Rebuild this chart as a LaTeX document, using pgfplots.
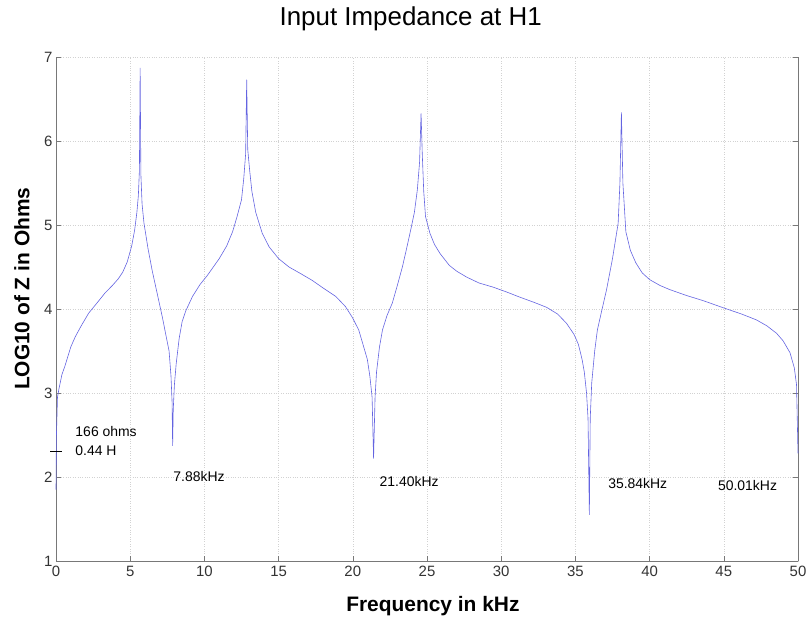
\documentclass[border=0pt]{standalone}
\usepackage{pgfplots}
\pgfplotsset{compat=1.18}
\usepackage{fontspec}
\setmainfont{Liberation Sans}
\definecolor{curve}{RGB}{100,100,225}
\definecolor{axgray}{RGB}{120,120,120}
\begin{document}
\begin{tikzpicture}
\begin{axis}[
  at={(0,0)}, anchor=south west,
  scale only axis, width=742bp, height=504bp,
  xmin=0, xmax=50, ymin=1, ymax=7,
  xtick={0,5,...,50}, ytick={1,2,...,7},
  axis x line=bottom, axis y line=box,
  x axis line style={-, draw=axgray},
  y axis line style={-, draw=axgray},
  tick align=inside, major tick length=5bp,
  tick style={axgray, line width=0.5pt},
  grid=major,
  grid style={dotted, gray!35, line width=0.5pt},
  /pgf/number format/assume math mode=true,
  tick label style={font=\fontsize{15}{18}\selectfont, text=black!80},
  xticklabel style={yshift=-2bp},
  title={Input Impedance at H1},
  title style={font=\fontsize{26}{30}\selectfont, at={(rel axis cs:0.478,1)}, anchor=center, yshift=32bp},
  xlabel={Frequency in kHz},
  xlabel style={font=\fontsize{21}{24}\selectfont\bfseries, at={(rel axis cs:0.508,0)}, anchor=center, yshift=-45bp},
  ylabel={LOG10 of Z in Ohms},
  ylabel style={font=\fontsize{21}{24}\selectfont\bfseries, at={(rel axis cs:0,0.54)}, anchor=center, yshift=34bp},
  clip=false,
]
\addplot[curve, line width=0.6pt] coordinates {
(0.0,1.85) (0.03,2.5) (0.1,2.95) (0.2,3.05) (0.4,3.22) (0.6,3.32) (1.0,3.55) (1.3,3.67) (1.7,3.8) (2.2,3.95) (2.8,4.08) (3.3,4.19) (3.8,4.28) (4.2,4.36) (4.5,4.44) (4.8,4.56) (5.1,4.75) (5.3,4.94) (5.45,5.15) (5.55,5.35) (5.62,5.65) (5.67,6.87) (5.72,5.6) (5.8,5.25) (5.93,5.02) (6.2,4.72) (6.49,4.45) (6.8,4.2) (7.17,3.9) (7.45,3.65) (7.62,3.5) (7.75,3.2) (7.82,2.9) (7.86,2.37) (7.9,2.8) (7.98,3.1) (8.1,3.35) (8.3,3.65) (8.5,3.85) (8.75,3.98) (9.2,4.15) (9.7,4.29) (10.2,4.4) (10.6,4.5) (11.0,4.6) (11.5,4.75) (11.9,4.92) (12.2,5.1) (12.5,5.3) (12.65,5.55) (12.78,5.85) (12.85,6.73) (12.92,5.9) (13.05,5.65) (13.2,5.4) (13.46,5.15) (13.9,4.9) (14.36,4.74) (15.0,4.6) (15.7,4.5) (16.5,4.42) (17.27,4.34) (18.0,4.25) (18.85,4.15) (19.5,4.03) (19.97,3.9) (20.4,3.75) (20.65,3.6) (20.98,3.4) (21.15,3.2) (21.3,2.95) (21.4,2.22) (21.5,2.95) (21.6,3.25) (21.8,3.55) (22.0,3.75) (22.3,3.92) (22.66,4.07) (23.0,4.28) (23.34,4.5) (23.6,4.7) (23.9,4.94) (24.15,5.15) (24.35,5.42) (24.5,5.75) (24.6,6.33) (24.68,5.85) (24.78,5.4) (24.9,5.1) (25.2,4.9) (25.5,4.77) (25.88,4.66) (26.5,4.52) (27.0,4.45) (27.67,4.38) (28.5,4.31) (29.46,4.26) (30.4,4.2) (31.27,4.14) (32.2,4.08) (33.06,4.02) (33.8,3.94) (34.4,3.83) (34.9,3.7) (35.2,3.58) (35.45,3.4) (35.6,3.25) (35.75,3.0) (35.85,2.7) (35.94,1.55) (36.0,2.7) (36.1,3.12) (36.3,3.5) (36.48,3.75) (36.8,4.0) (37.1,4.23) (37.5,4.6) (37.88,5.02) (38.0,5.5) (38.1,6.34) (38.2,5.5) (38.4,4.92) (38.7,4.7) (39.07,4.55) (39.5,4.43) (40.0,4.35) (40.7,4.28) (41.37,4.23) (42.5,4.16) (43.6,4.1) (44.4,4.05) (45.2,4.0) (46.2,3.94) (47.2,3.87) (47.9,3.8) (48.56,3.71) (49.0,3.62) (49.46,3.48) (49.75,3.3) (49.9,3.1) (50.0,2.28)
};
\draw[black, line width=0.6pt] (axis cs:-0.4,2.31) -- (axis cs:0.4,2.31);
\node[anchor=west, font=\fontsize{14}{16}\selectfont, inner sep=0pt] at (axis cs:1.3,2.54) {166 ohms};
\node[anchor=west, font=\fontsize{14}{16}\selectfont, inner sep=0pt] at (axis cs:1.3,2.31) {0.44 H};
\node[font=\fontsize{14}{16}\selectfont, inner sep=0pt] at (axis cs:9.64,2.0) {7.88kHz};
\node[font=\fontsize{14}{16}\selectfont, inner sep=0pt] at (axis cs:23.8,1.95) {21.40kHz};
\node[font=\fontsize{14}{16}\selectfont, inner sep=0pt] at (axis cs:39.2,1.92) {35.84kHz};
\node[font=\fontsize{14}{16}\selectfont, inner sep=0pt] at (axis cs:46.6,1.9) {50.01kHz};
\end{axis}
\pgfresetboundingbox
\path (-56bp,-61bp) rectangle (753bp,561bp);
\end{tikzpicture}
\end{document}
